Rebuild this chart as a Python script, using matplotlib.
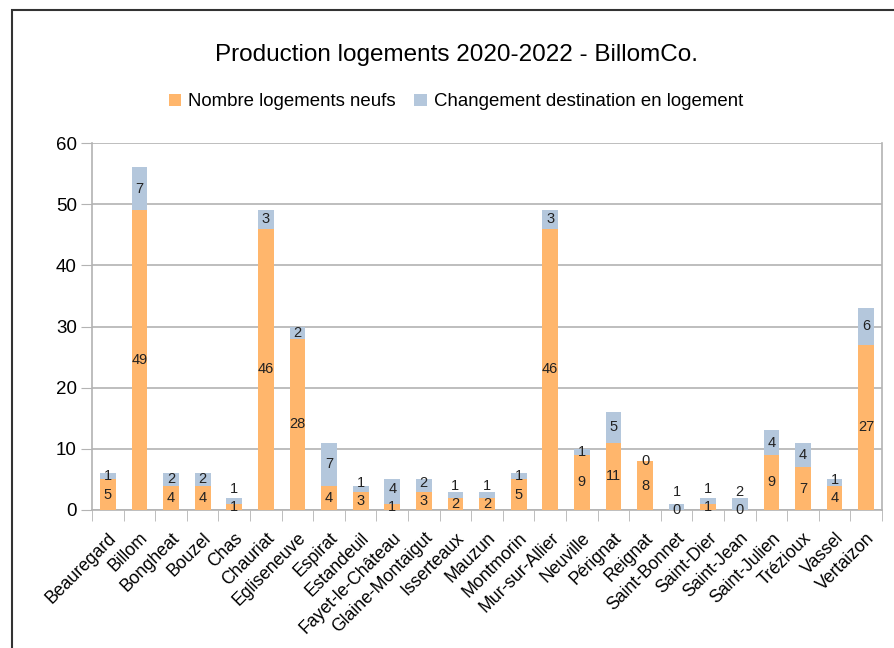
import numpy as np
import matplotlib.pyplot as plt
from matplotlib.patches import Rectangle
from matplotlib.ticker import FixedLocator

plt.rcParams['font.family'] = ['Liberation Sans', 'DejaVu Sans']

communes = ['Beauregard', 'Billom', 'Bongheat', 'Bouzel', 'Chas', 'Chauriat',
            'Egliseneuve', 'Espirat', 'Estandeuil', 'Fayet-le-Château',
            'Glaine-Montaigut', 'Isserteaux', 'Mauzun', 'Montmorin',
            'Mur-sur-Allier', 'Neuville', 'Pérignat', 'Reignat', 'Saint-Bonnet',
            'Saint-Dier', 'Saint-Jean', 'Saint-Julien', 'Trézioux', 'Vassel',
            'Vertaizon']
neufs = [5, 49, 4, 4, 1, 46, 28, 4, 3, 1, 3, 2, 2, 5, 46, 9, 11, 8, 0, 1, 0, 9, 7, 4, 27]
changement = [1, 7, 2, 2, 1, 3, 2, 7, 1, 4, 2, 1, 1, 1, 3, 1, 5, 0, 1, 1, 2, 4, 4, 1, 6]

orange = '#ffb66c'
bleu = '#b4c7dc'
gris = '#b3b3b3'

fig = plt.figure(figsize=(8.94, 6.48), dpi=100)
ax = fig.add_axes([92/894, 1-510/648, 790/894, 367/648])

x = np.arange(len(communes))
ax.bar(x, neufs, width=0.5, color=orange, label='Nombre logements neufs', zorder=3)
ax.bar(x, changement, width=0.5, bottom=neufs, color=bleu,
       label='Changement destination en logement', zorder=3)

# etiquettes de valeurs
for i in range(len(communes)):
    yo = neufs[i] / 2
    ax.text(x[i], yo, str(neufs[i]), ha='center', va='center', fontsize=10.5,
            color='#222222', zorder=4)
    yb = max(neufs[i] + changement[i] / 2, yo + 2.9)
    ax.text(x[i], yb, str(changement[i]), ha='center', va='center', fontsize=10.5,
            color='#222222', zorder=4)

ax.set_xlim(-0.5, len(communes) - 0.5)
ax.set_ylim(0, 60)
ax.set_yticks(range(0, 61, 10))
ax.yaxis.grid(True, color=gris, linewidth=1.2, zorder=0)
ax.tick_params(axis='y', length=8, color=gris, labelsize=13.5, pad=3)

ax.set_xticks(x)
ax.set_xticklabels(communes, rotation=45, ha='right', rotation_mode='anchor',
                   fontsize=12.7)
ax.tick_params(axis='x', which='major', length=0, pad=14)
ax.xaxis.set_minor_locator(FixedLocator(np.arange(-0.5, len(communes), 1)))
ax.tick_params(axis='x', which='minor', length=8, color=gris)

ax.spines['top'].set_visible(False)
for s in ['left', 'bottom', 'right']:
    ax.spines[s].set_color(gris)
    ax.spines[s].set_linewidth(1.2)

fig.text(456/894, 1-55/648, 'Production logements 2020-2022 - BillomCo.',
         ha='center', va='center', fontsize=17.5)
fig.legend(loc='center', bbox_to_anchor=(456/894, 1-102/648), ncol=2,
           frameon=False, fontsize=13.4, handlelength=0.65, handleheight=0.65,
           handletextpad=0.4, columnspacing=1.0)

fig.patches.append(Rectangle((12/894, -0.1), 1.0, 1.1 - 10/648, fill=False,
                             edgecolor='#333333', linewidth=1.5,
                             transform=fig.transFigure))

fig.savefig('out.png', dpi=100)
